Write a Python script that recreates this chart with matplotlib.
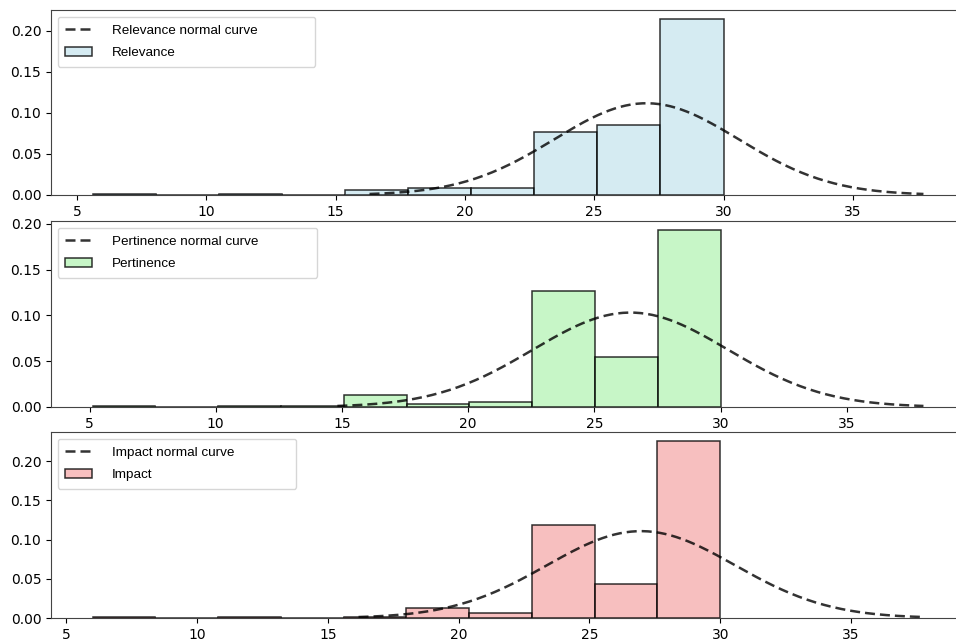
import numpy as np
import matplotlib.pyplot as plt
from matplotlib.colors import to_rgba

# histogram bin edges (10 bins up to the max score of 30) and density heights
relevance_edges = np.linspace(5.6, 30, 11)
relevance_density = [0.0008, 0.0, 0.0008, 0.0, 0.0065, 0.0090, 0.0085, 0.0772, 0.0850, 0.2146]
relevance_mu, relevance_sigma = 27.02, 3.57

pertinence_edges = np.linspace(5.12, 30, 11)
pertinence_density = [0.0010, 0.0, 0.0010, 0.0010, 0.0131, 0.0033, 0.0050, 0.1264, 0.0546, 0.1934]
pertinence_mu, pertinence_sigma = 26.43, 3.87

impact_edges = np.linspace(6.0, 30, 11)
impact_density = [0.0008, 0.0, 0.0008, 0.0, 0.0008, 0.0133, 0.0069, 0.1188, 0.0439, 0.2260]
impact_mu, impact_sigma = 26.97, 3.60

names = ["Relevance", "Pertinence", "Impact"]
colors = ["lightblue", "lightgreen", "lightcoral"]


def normal_pdf(x, mu, sigma):
    return np.exp(-0.5 * ((x - mu) / sigma) ** 2) / (sigma * np.sqrt(2 * np.pi))


def draw_panel(ax, name, color, edges, density, mu, sigma, legend_w):
    widths = np.diff(edges)
    bars = ax.bar(edges[:-1], density, width=widths, align="edge",
                  facecolor=to_rgba(color, 0.5), edgecolor=to_rgba("black", 0.8),
                  linewidth=1.1, label=name)
    x = np.linspace(mu - 3 * sigma, mu + 3 * sigma, 200)
    line, = ax.plot(x, normal_pdf(x, mu, sigma), "--", color="black", alpha=0.8,
                    linewidth=1.8, dashes=(4, 2), label=f"{name} normal curve")
    ax.set_xticks([5, 10, 15, 20, 25, 30, 35])
    # legend frame is wider than its text in the original
    ax.legend(handles=[line, bars], loc="upper left", mode="expand",
              bbox_to_anchor=(0, 1, legend_w, 0), handletextpad=1.45,
              borderpad=0.55, labelspacing=0.75,
              prop={"family": "Liberation Sans", "size": 9.7})
    for s in ax.spines.values():
        s.set_color("#444444")
    ax.tick_params(labelsize=10)


fig = plt.figure(figsize=(9.56, 6.41), dpi=100)
W, H = 956, 641
boxes = [(10, 195), (221, 407), (432, 618)]
legend_widths = [0.2965, 0.2987, 0.2757]
data = [
    (relevance_edges, relevance_density, relevance_mu, relevance_sigma),
    (pertinence_edges, pertinence_density, pertinence_mu, pertinence_sigma),
    (impact_edges, impact_density, impact_mu, impact_sigma),
]
for (top, bottom), name, color, lw, (edges, dens, mu, sigma) in zip(
        boxes, names, colors, legend_widths, data):
    ax = fig.add_axes([51 / W, 1 - bottom / H, 914 / W, (bottom - top) / H])
    draw_panel(ax, name, color, edges, dens, mu, sigma, lw)

fig.savefig("out.png", dpi=100)
